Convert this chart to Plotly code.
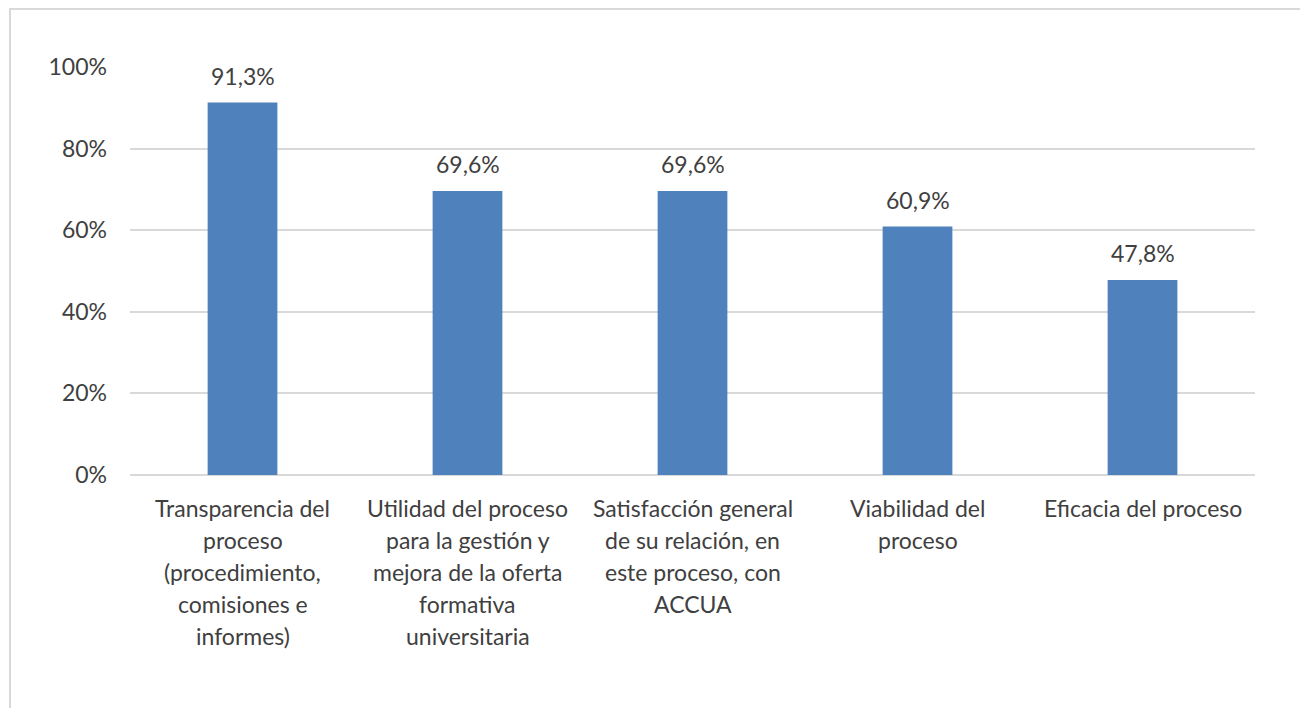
import plotly.graph_objects as go

categories = [
    "Transparencia del proceso (procedimiento, comisiones e informes)",
    "Utilidad del proceso para la gestión y mejora de la oferta formativa universitaria",
    "Satisfacción general de su relación, en este proceso, con ACCUA",
    "Viabilidad del proceso",
    "Eficacia del proceso",
]
label_lines = [
    ["Transparencia del", "proceso", "(procedimiento,", "comisiones e", "informes)"],
    ["Utilidad del proceso", "para la gestión y", "mejora de la oferta", "formativa", "universitaria"],
    ["Satisfacción general", "de su relación, en", "este proceso, con", "ACCUA"],
    ["Viabilidad del", "proceso"],
    ["Eficacia del proceso"],
]
values = [0.913, 0.696, 0.696, 0.609, 0.478]
tick_vals = [0, 0.2, 0.4, 0.6, 0.8, 1.0]
tick_text = ["0%", "20%", "40%", "60%", "80%", "100%"]

FONT = "Lato"
TXT = "#404040"
GRID = "#D9D9D9"
FS = 23

fig = go.Figure()
fig.add_trace(go.Bar(
    x=categories, y=values,
    marker=dict(color="#4F81BD", line=dict(width=0)),
    hoverinfo="skip",
))

annotations = []
for cat, v in zip(categories, values):
    annotations.append(dict(
        x=cat, y=v, xref="x", yref="y",
        text=f"{v*100:.1f}".replace(".", ",") + "%",
        showarrow=False, yanchor="bottom", yshift=11,
        font=dict(family=FONT, size=FS, color=TXT),
    ))
for cat, lines in zip(categories, label_lines):
    for i, line in enumerate(lines):
        annotations.append(dict(
            x=cat, y=0, xref="x", yref="y",
            text=line, showarrow=False, yanchor="middle",
            yshift=-(33 + i * 32),
            font=dict(family=FONT, size=FS, color=TXT),
        ))

fig.update_layout(
    width=1300, height=700,
    margin=dict(l=122, r=53, t=59, b=233),
    paper_bgcolor="white", plot_bgcolor="white",
    showlegend=False,
    bargap=0.69,
    font=dict(family=FONT, size=FS, color=TXT),
    annotations=annotations,
    xaxis=dict(showticklabels=False, showgrid=False, zeroline=False,
               showline=False, ticks=""),
    yaxis=dict(range=[0, 1], tickvals=tick_vals, ticktext=tick_text,
               showgrid=True, gridcolor=GRID, gridwidth=1.5,
               zeroline=True, zerolinecolor=GRID, zerolinewidth=1.5,
               showline=False, ticks="", ticklabelstandoff=22,
               tickfont=dict(family=FONT, size=FS, color=TXT)),
    shapes=[dict(type="rect", xref="paper", yref="paper",
                 x0=(2 - 122) / 1125, x1=1.1,
                 y0=-1.0, y1=(467 - 1) / 408,
                 line=dict(color=GRID, width=2), layer="below")],
)

fig.write_html("out.html")
